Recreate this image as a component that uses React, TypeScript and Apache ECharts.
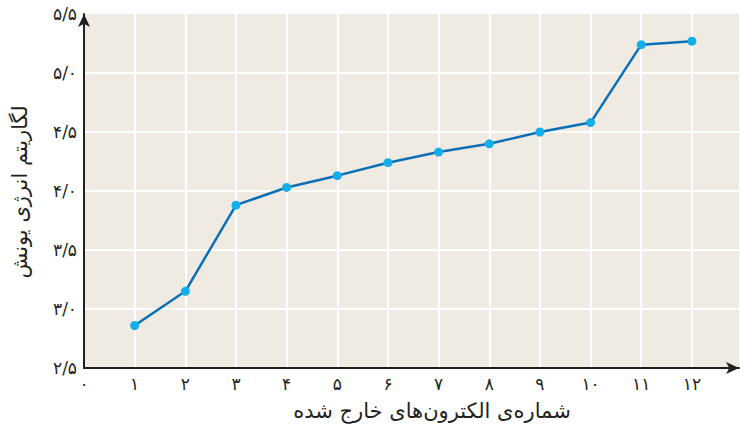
import React, { useEffect, useRef } from "react";
import * as echarts from "echarts";

const electronNumbers = [1, 2, 3, 4, 5, 6, 7, 8, 9, 10, 11, 12];
const logIonizationEnergy = [2.86, 3.15, 3.88, 4.03, 4.13, 4.24, 4.33, 4.40, 4.50, 4.58, 5.24, 5.27];
const xAxisTitle = "شماره‌ی الکترون‌های خارج شده";
const yAxisTitle = "لگاریتم انرژی یونش";

const faDigits = ["۰", "۱", "۲", "۳", "۴", "۵", "۶", "۷", "۸", "۹"];
const toFa = (s: string) => s.replace(/[0-9]/g, (d) => faDigits[Number(d)]);

export default function App() {
  const ref = useRef<HTMLDivElement>(null);
  useEffect(() => {
    document.body.style.margin = "0";
    const chart = echarts.init(ref.current!, null, { renderer: "svg" });
    const font = "DejaVu Sans";
    chart.setOption({
      animation: false,
      backgroundColor: "#ffffff",
      grid: { left: 84, right: 1, top: 14, bottom: 57, backgroundColor: "#efebe2", show: true, borderWidth: 0 },
      xAxis: {
        type: "value",
        min: 0,
        max: 12.93,
        interval: 1,
        axisLine: { show: true, lineStyle: { color: "#231f20", width: 2 }, symbol: ["none", "arrow"], symbolSize: [9, 13] },
        axisTick: { show: false },
        axisLabel: {
          showMaxLabel: false,
          color: "#231f20",
          fontFamily: font,
          fontSize: 17,
          margin: 7,
          formatter: (v: number) => (Number.isInteger(v) ? toFa(String(v)) : ""),
        },
        splitLine: { show: true, showMaxLine: false, showMinLine: false, lineStyle: { color: "#ffffff", width: 2 } },
      },
      yAxis: {
        type: "value",
        min: 2.5,
        max: 5.5,
        interval: 0.5,
        axisLine: { show: true, lineStyle: { color: "#231f20", width: 2 }, symbol: ["none", "arrow"], symbolSize: [9, 13] },
        axisTick: { show: false },
        axisLabel: {
          color: "#231f20",
          fontFamily: font,
          fontSize: 17,
          margin: 7,
          formatter: (v: number) => toFa(v.toFixed(1).replace(".", "/")),
        },
        splitLine: { show: true, showMaxLine: false, showMinLine: false, lineStyle: { color: "#ffffff", width: 2 } },
      },
      graphic: [
        {
          type: "text",
          x: 432,
          y: 411,
          style: { text: xAxisTitle, fontFamily: font, fontSize: 21, fill: "#231f20", align: "center", verticalAlign: "middle" },
        },
        {
          type: "text",
          x: 20,
          y: 192,
          rotation: Math.PI / 2,
          style: { text: yAxisTitle, fontFamily: font, fontSize: 21, fill: "#231f20", align: "center", verticalAlign: "middle" },
        },
      ],
      series: [
        {
          type: "line",
          data: electronNumbers.map((x, i) => [x, logIonizationEnergy[i]]),
          lineStyle: { color: "#0b6fb6", width: 2.5 },
          itemStyle: { color: "#14aeea" },
          symbol: "circle",
          symbolSize: 9,
        },
      ],
    });
    return () => chart.dispose();
  }, []);
  return <div ref={ref} style={{ width: 740, height: 425 }} />;
}
